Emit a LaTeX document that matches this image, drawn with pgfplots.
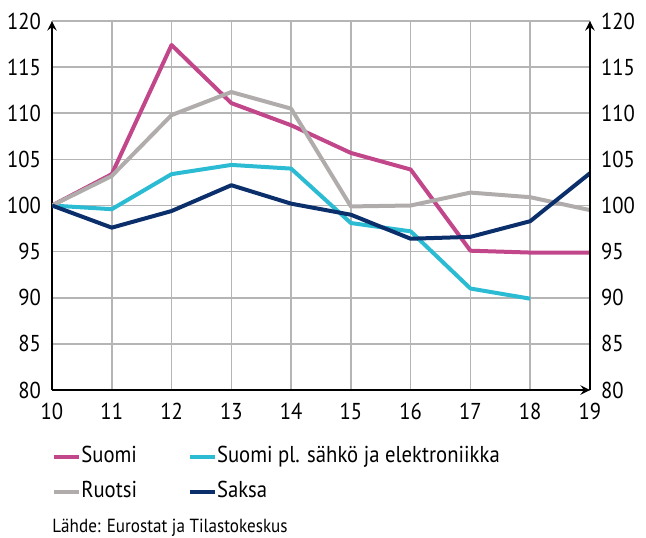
\documentclass[border=0pt]{standalone}
\usepackage{pgfplots}
\pgfplotsset{compat=1.18}
\usepackage{fontspec}
\setmainfont[FakeStretch=0.9]{PT Sans}
\definecolor{csuomi}{HTML}{C2478A}
\definecolor{cruotsi}{HTML}{B0ACAB}
\definecolor{ccyan}{HTML}{2BBCD4}
\definecolor{csaksa}{HTML}{0A2F6B}
\definecolor{cgrid}{HTML}{B5B5B5}
\begin{document}
\begin{tikzpicture}
\useasboundingbox (-26pt,-73.5pt) rectangle (297pt,195pt);
\pgfplotsset{
  common/.style={
    at={(0,0)}, anchor=south west,
    scale only axis, width=269pt, height=184.5pt,
    xmin=10, xmax=19, ymin=80, ymax=120,
    xtick={10,...,19}, ytick={80,85,...,120},
    major tick length=0pt,
    tick label style={font=\fontsize{11.5}{12}\selectfont},
    /pgf/number format/assume math mode=true,
    axis line style={-, black, line width=1.1pt},
  }
}
\begin{axis}[common,
  axis x line=bottom, axis y line=left,
  grid=major, major grid style={cgrid, line width=0.8pt},
  xticklabel style={yshift=-3pt},
  yticklabel style={xshift=-2pt},
  legend style={draw=none, fill=none, at={(0,-27.5pt)}, anchor=north west,
    inner sep=0pt, font=\fontsize{11.5}{12}\selectfont,
    row sep=6pt,
    /tikz/every even column/.append style={column sep=25.5pt},
    nodes={inner sep=0pt, text height=8.5pt, text depth=3pt, xshift=0pt}},
  legend columns=2,
  legend image code/.code={\draw[#1, line width=2pt] (0pt,0pt) -- (12.5pt,0pt);},
  legend cell align=left,
  every axis plot/.append style={line width=2pt, line join=round},
]
\addplot[csuomi] coordinates {(10,100) (11,103.4) (12,117.4) (13,111.1) (14,108.7) (15,105.7) (16,103.9) (17,95.1) (18,94.9) (19,94.9)};
\addlegendentry{Suomi}
\addplot[ccyan] coordinates {(10,100) (11,99.6) (12,103.4) (13,104.4) (14,104.0) (15,98.1) (16,97.2) (17,91.0) (18,89.9)};
\addlegendentry{Suomi pl. sähkö ja elektroniikka}
\addplot[cruotsi] coordinates {(10,100) (11,103.2) (12,109.8) (13,112.3) (14,110.5) (15,99.9) (16,100.0) (17,101.4) (18,100.9) (19,99.5)};
\addlegendentry{Ruotsi}
\addplot[csaksa] coordinates {(10,100) (11,97.6) (12,99.4) (13,102.2) (14,100.2) (15,99.0) (16,96.4) (17,96.6) (18,98.3) (19,103.5)};
\addlegendentry{Saksa}
\end{axis}
\begin{axis}[common,
  axis x line=none, axis y line=right,
  yticklabel pos=right,
  yticklabel style={xshift=2pt, anchor=west},
]
\addplot[draw=none] coordinates {(10,100)};
\end{axis}
\node[anchor=base west, inner sep=0pt, font=\fontsize{9.5}{11}\selectfont] at (0pt,-71pt) {Lähde: Eurostat ja Tilastokeskus};
\end{tikzpicture}
\end{document}
